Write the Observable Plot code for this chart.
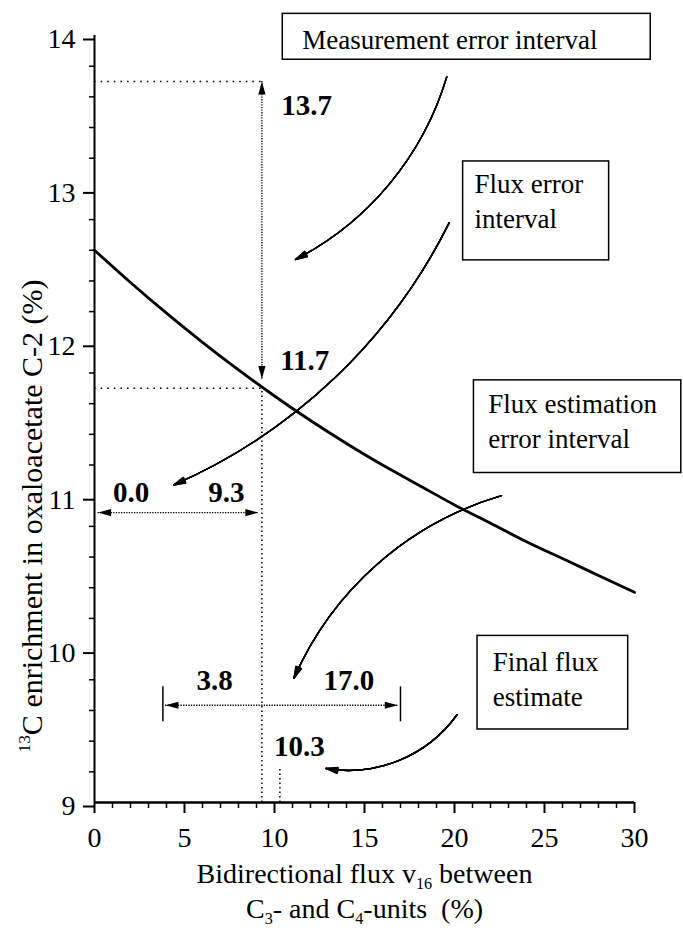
<!DOCTYPE html>
<html><head><meta charset="utf-8">
<script src="https://cdn.jsdelivr.net/npm/d3@7"></script>
<script src="https://cdn.jsdelivr.net/npm/@observablehq/plot@0.6"></script>
<style>html,body{margin:0;padding:0;background:#fff;} #chart{width:683px;height:933px;}</style>
</head><body><div id="chart"></div>
<script>
// ---- data ----
const fluxPct = [0, 2, 4, 6, 8, 10, 12, 14, 16, 18, 20, 22, 24, 26, 28, 30];
const enrichmentPct = [12.60, 12.39, 12.19, 12.00, 11.82, 11.65, 11.49, 11.34, 11.20, 11.07, 10.94, 10.82, 10.70, 10.59, 10.48, 10.37];
const xMajorTicks = [0, 5, 10, 15, 20, 25, 30];
const xMinorTicks = d3.range(0, 31).filter(d => d % 5 !== 0);
const yMajorTicks = [9, 10, 11, 12, 13, 14];
const yMinorTicks = d3.range(45, 71).map(d => d / 5).filter(d => !Number.isInteger(d));

const measurementInterval = [11.7, 13.7];   // enrichment %
const fluxErrorInterval = [0.0, 9.3];       // flux %
const fluxErrorLevel = 10.89;               // y of the flux error arrow
const finalFluxInterval = [3.8, 17.0];      // flux %
const finalIntervalLevel = 9.634;           // y of the final interval arrow
const finalFluxEstimate = 10.3;             // flux %

const valueLabels = [
  {text: "13.7", x: 11.78, y: 13.544},
  {text: "11.7", x: 11.68, y: 11.877},
  {text: "0.0",  x: 2.03,  y: 11.019},
  {text: "9.3",  x: 7.33,  y: 11.019},
  {text: "3.8",  x: 6.68,  y: 9.792},
  {text: "17.0", x: 14.13, y: 9.792},
  {text: "10.3", x: 11.38, y: 9.362}
];

const boxes = [
  {label: "Measurement error interval", x1: 10.46, x2: 30.9, y1: 13.842, y2: 14.141, tx: 11.54, ty: 13.913},
  {label: "Flux error\ninterval", x1: 20.48, x2: 28.59, y1: 12.534, y2: 13.179, tx: 21.11, ty: 12.744},
  {label: "Flux estimation\nerror interval", x1: 21.08, x2: 32.6, y1: 11.148, y2: 11.752, tx: 21.88, ty: 11.311},
  {label: "Final flux\nestimate", x1: 21.28, x2: 29.65, y1: 9.476, y2: 10.086, tx: 22.13, ty: 9.631}
];

const pointerArrows = [
  {x1: 19.57, y1: 13.73, x2: 11.17, y2: 12.54, bend: 23},
  {x1: 19.71, y1: 12.78, x2: 4.40, y2: 11.07, bend: 20},
  {x1: 22.61, y1: 11.00, x2: 11.08, y2: 9.81, bend: -25},
  {x1: 20.14, y1: 9.572, x2: 12.86, y2: 9.222, bend: 32}
];

const xTitle = "Bidirectional flux v_{16} between\nC_{3}- and C_{4}-units  (%)";
const yTitle = "^{13}C enrichment in oxaloacetate C-2 (%)";

// ---- derived annotation geometry ----
const heads = [
  {x: fluxErrorInterval[1], y: measurementInterval[1], angle: 0},
  {x: fluxErrorInterval[1], y: measurementInterval[0] + 0.06, angle: 180},
  {x: fluxErrorInterval[0] + 0.2, y: fluxErrorLevel, angle: -90},
  {x: fluxErrorInterval[1] - 0.2, y: fluxErrorLevel, angle: 90},
  {x: finalFluxInterval[0] + 0.14, y: finalIntervalLevel, angle: -90},
  {x: finalFluxInterval[1] - 0.15, y: finalIntervalLevel, angle: 90}
];
const headSymbol = {draw(ctx) { ctx.moveTo(0, 0); ctx.lineTo(3.6, 13); ctx.lineTo(-3.6, 13); ctx.closePath(); }};

const curve = fluxPct.map((x, i) => ({x, y: enrichmentPct[i]}));
const dotted = "1.6,5";
const fine = "1.3,1.3";

const fanMarks = [];
for (const a of pointerArrows) {
  for (const ha of [6, 12, 18, 24, 30]) {
    fanMarks.push(Plot.arrow([a], {x1: "x1", y1: "y1", x2: "x2", y2: "y2", bend: a.bend,
      headAngle: ha, headLength: 13, strokeWidth: 1.4, stroke: "black"}));
  }
}

const chart = Plot.plot({
  width: 683, height: 933,
  marginLeft: 94, marginRight: 49, marginTop: 35, marginBottom: 131,
  x: {domain: [0, 30]},
  y: {domain: [9, 14]},
  style: {fontFamily: "'Liberation Serif', 'Times New Roman', serif", fontSize: "28px", background: "white", color: "black", overflow: "visible"},
  marks: [
    // guide lines
    Plot.ruleY([measurementInterval[1]], {x1: 0, x2: fluxErrorInterval[1], strokeDasharray: dotted, strokeWidth: 1.5}),
    Plot.ruleY([measurementInterval[0]], {x1: 0, x2: fluxErrorInterval[1], strokeDasharray: dotted, strokeWidth: 1.5}),
    Plot.ruleX([fluxErrorInterval[1]], {y1: 9, y2: measurementInterval[0], strokeDasharray: "1.5,3", strokeWidth: 1.5}),
    Plot.ruleX([finalFluxEstimate], {y1: 9, y2: 9.23, strokeDasharray: "1.5,3", strokeWidth: 1.5}),
    // interval shafts
    Plot.ruleX([fluxErrorInterval[1]], {y1: measurementInterval[0] + 0.06, y2: measurementInterval[1], strokeDasharray: fine, strokeWidth: 1.3}),
    Plot.ruleY([fluxErrorLevel], {x1: fluxErrorInterval[0] + 0.2, x2: fluxErrorInterval[1] - 0.2, strokeDasharray: fine, strokeWidth: 1.3}),
    Plot.ruleY([finalIntervalLevel], {x1: finalFluxInterval[0] + 0.14, x2: finalFluxInterval[1] - 0.15, strokeDasharray: fine, strokeWidth: 1.3}),
    Plot.ruleX(finalFluxInterval, {y1: 9.526, y2: 9.754, strokeWidth: 1.5}),
    Plot.dot(heads, {x: "x", y: "y", rotate: "angle", symbol: headSymbol, fill: "black", stroke: "none"}),
    // axes
    Plot.axisY(yMinorTicks, {tickSize: 5, text: null, strokeWidth: 1.5, label: null}),
    Plot.axisY(yMajorTicks, {tickSize: 11, tickPadding: 8, strokeWidth: 2, fontSize: 28, dy: 4, label: null, tickFormat: d => String(d)}),
    Plot.axisX(xMinorTicks, {tickSize: 6, text: null, strokeWidth: 1.5, label: null}),
    Plot.axisX(xMajorTicks, {tickSize: 11, tickPadding: 14, strokeWidth: 2, fontSize: 28, label: null, tickFormat: d => String(d)}),
    Plot.ruleX([0], {strokeWidth: 2}),
    Plot.ruleY([9], {strokeWidth: 2.5}),
    // curve
    Plot.line(curve, {x: "x", y: "y", curve: "natural", strokeWidth: 2.8, stroke: "black"}),
    // pointer arrows
    ...fanMarks,
    // boxes
    Plot.rect(boxes, {x1: "x1", x2: "x2", y1: "y1", y2: "y2", fill: "white", stroke: "black", strokeWidth: 1.5}),
    Plot.text(boxes, {x: "tx", y: "ty", text: "label", textAnchor: "start", lineAnchor: "bottom", fontSize: 27, lineHeight: 1.3}),
    // value labels
    Plot.text(valueLabels, {x: "x", y: "y", text: "text", fontWeight: "bold", fontSize: 29}),
    // axis titles
    Plot.text([xTitle], {text: d => d, frameAnchor: "bottom", textAnchor: "middle", lineAnchor: "bottom", dy: 115, fontSize: 28, lineHeight: 1.22}),
    Plot.text([yTitle], {text: d => d, frameAnchor: "left", textAnchor: "middle", lineAnchor: "middle", rotate: -90, dx: -62, dy: 97, fontSize: 30})
  ]
});

// sub/superscript markup
const NS = "http://www.w3.org/2000/svg";
function richify(node) {
  const s = node.textContent;
  if (!/[_^]\{/.test(s)) return;
  while (node.firstChild) node.removeChild(node.firstChild);
  const re = /([_^])\{([^}]*)\}/g;
  let last = 0, m, cur = 0;
  const add = (txt, target, small) => {
    const t = document.createElementNS(NS, "tspan");
    t.textContent = txt;
    if (target !== cur) t.setAttribute("dy", target - cur);
    cur = target;
    if (small) t.setAttribute("font-size", "0.58em");
    node.appendChild(t);
  };
  while ((m = re.exec(s))) {
    if (m.index > last) add(s.slice(last, m.index), 0, false);
    add(m[2], m[1] === "_" ? 6 : -12, true);
    last = re.lastIndex;
  }
  if (last < s.length) add(s.slice(last), 0, false);
}
chart.querySelectorAll("text, tspan").forEach(n => {
  if (n.querySelector && n.querySelector("tspan")) return;
  richify(n);
});
document.getElementById("chart").appendChild(chart);
</script>
</body></html>
